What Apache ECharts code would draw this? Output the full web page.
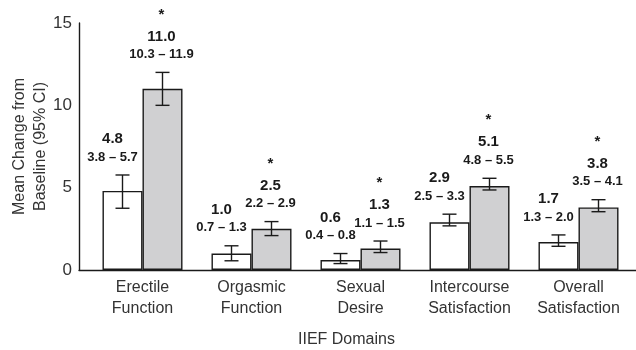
<!DOCTYPE html>
<html>
<head>
<meta charset="utf-8">
<script src="https://cdn.jsdelivr.net/npm/echarts@6/dist/echarts.min.js"></script>
<style>html,body{margin:0;padding:0;background:#fff;}#c{width:636px;height:350px;}</style>
</head>
<body>
<div id="c"></div>
<script>
// ---- data ----
const categories = ['Erectile\nFunction', 'Orgasmic\nFunction', 'Sexual\nDesire', 'Intercourse\nSatisfaction', 'Overall\nSatisfaction'];
const whiteMean = [4.8, 1.0, 0.6, 2.9, 1.7];
const grayMean = [11.0, 2.5, 1.3, 5.1, 3.8];
const whiteLow = [3.75, 0.56, 0.39, 2.68, 1.44];
const whiteHigh = [5.77, 1.47, 1.0, 3.39, 2.13];
const grayLow = [10.0, 2.09, 1.06, 4.86, 3.54];
const grayHigh = [12.0, 2.94, 1.76, 5.57, 4.27];
const whiteCI = ['3.8 \u2013 5.7', '0.7 \u2013 1.3', '0.4 \u2013 0.8', '2.5 \u2013 3.3', '1.3 \u2013 2.0'];
const grayCI = ['10.3 \u2013 11.9', '2.2 \u2013 2.9', '1.1 \u2013 1.5', '4.8 \u2013 5.5', '3.5 \u2013 4.1'];
const graySig = ['*', '*', '*', '*', '*'];
const yTicks = [0, 5, 10, 15];

// ---- styling ----
const BAR_W = 40;
const INK = '#1a1a1a';
const AXIS_TXT = '#333';
const LBL_FONT = '"Liberation Sans", Arial, sans-serif';
const AX_FONT = '"Liberation Sans", Arial, sans-serif';

function errRenderer(side, meanArr, ciArr, sigArr, dx) {
  return function (params, api) {
    const i = params.dataIndex;
    const top = api.coord([api.value(0), api.value(2)]);
    const bot = api.coord([api.value(0), api.value(1)]);
    const x = top[0] + side * BAR_W / 2;
    const cap = 7;
    const ls = { stroke: INK, lineWidth: 1.4 };
    const children = [
      { type: 'line', shape: { x1: x, y1: top[1], x2: x, y2: bot[1] }, style: ls },
      { type: 'line', shape: { x1: x - cap, y1: top[1], x2: x + cap, y2: top[1] }, style: ls },
      { type: 'line', shape: { x1: x - cap, y1: bot[1], x2: x + cap, y2: bot[1] }, style: ls },
      { type: 'text', x: x + dx, y: top[1] - 18, style: { text: ciArr[i], fill: INK, font: 'bold 13px ' + LBL_FONT, align: 'center', verticalAlign: 'middle' } },
      { type: 'text', x: x + dx, y: top[1] - 36, style: { text: meanArr[i].toFixed(1), fill: INK, font: 'bold 15px ' + LBL_FONT, align: 'center', verticalAlign: 'middle' } }
    ];
    if (sigArr) {
      children.push({ type: 'text', x: x + dx, y: top[1] - 58, style: { text: sigArr[i], fill: INK, font: 'bold 15px ' + LBL_FONT, align: 'center', verticalAlign: 'middle' } });
    }
    return { type: 'group', children: children };
  };
}

const chart = echarts.init(document.getElementById('c'), null, { renderer: 'canvas' });
chart.setOption({
  animation: false,
  backgroundColor: '#fff',
  title: {
    text: 'IIEF Domains', left: 293, top: 327,
    textStyle: { fontFamily: AX_FONT, fontSize: 16, fontWeight: 'normal', color: AXIS_TXT }
  },
  grid: [
    { left: 88, right: 3, top: 23, bottom: 80, outerBoundsMode: 'none', containLabel: false },
    { left: 79, right: 0, top: 23, bottom: 80, outerBoundsMode: 'none', containLabel: false }
  ],
  xAxis: [
    {
      type: 'category', data: categories, gridIndex: 0,
      axisLine: { show: false },
      axisTick: { show: false },
      axisLabel: { interval: 0, hideOverlap: false, color: AXIS_TXT, fontSize: 16, lineHeight: 21, margin: 7, fontFamily: AX_FONT }
    },
    {
      type: 'value', gridIndex: 1, min: 0, max: 1,
      axisLine: { show: true, onZero: false, lineStyle: { color: INK, width: 1.4 } },
      axisTick: { show: false }, axisLabel: { show: false }, splitLine: { show: false }
    }
  ],
  yAxis: [
    {
      type: 'value', gridIndex: 0, min: yTicks[0], max: yTicks[yTicks.length - 1], interval: 5, offset: 9,
      name: 'Mean Change from\nBaseline (95% CI)', nameLocation: 'middle', nameGap: 28, nameMoveOverlap: false,
      nameTextStyle: { color: AXIS_TXT, fontSize: 16, lineHeight: 21, fontFamily: AX_FONT },
      axisLine: { show: true, lineStyle: { color: INK, width: 1.4 } },
      axisTick: { show: false },
      splitLine: { show: false },
      axisLabel: { color: AXIS_TXT, fontSize: 17, margin: 7, fontFamily: AX_FONT }
    },
    { type: 'value', gridIndex: 1, show: false, min: 0, max: 1 }
  ],
  series: [
    {
      type: 'bar', data: whiteMean, barWidth: BAR_W, barGap: '0%',
      itemStyle: { color: '#fff', borderColor: INK, borderWidth: 1.4 }
    },
    {
      type: 'bar', data: grayMean, barWidth: BAR_W, barGap: '0%',
      itemStyle: { color: '#d0d0d2', borderColor: INK, borderWidth: 1.4 }
    },
    {
      type: 'custom', clip: false, z: 5,
      data: categories.map((c, i) => [i, whiteLow[i], whiteHigh[i]]),
      renderItem: errRenderer(-1, whiteMean, whiteCI, null, -10)
    },
    {
      type: 'custom', clip: false, z: 5,
      data: categories.map((c, i) => [i, grayLow[i], grayHigh[i]]),
      renderItem: errRenderer(1, grayMean, grayCI, graySig, -1)
    }
  ]
});
</script>
</body>
</html>
